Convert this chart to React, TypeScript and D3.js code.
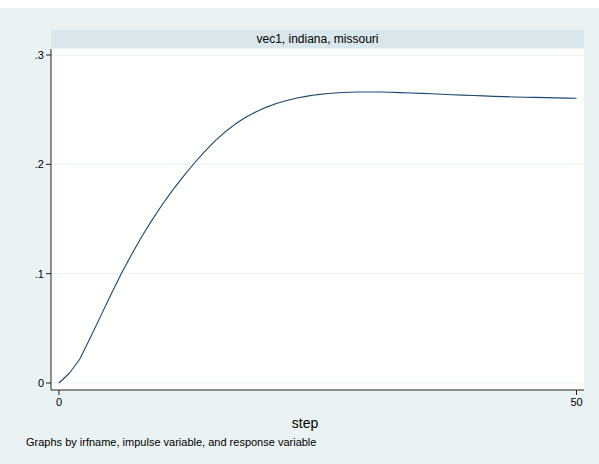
import React from "react";
import * as d3 from "d3";

const steps: number[] = Array.from({ length: 51 }, (_, i) => i);
const irf: number[] = [
  0, 0.0089, 0.0217, 0.041, 0.0607, 0.0805, 0.0997, 0.1172, 0.134, 0.1492,
  0.1635, 0.1766, 0.1888, 0.2003, 0.211, 0.2207, 0.2293, 0.2366, 0.2428, 0.2479,
  0.2521, 0.2556, 0.2584, 0.2606, 0.2624, 0.2638, 0.2648, 0.2655, 0.2659, 0.2661,
  0.2662, 0.2661, 0.2659, 0.2656, 0.2653, 0.2649, 0.2645, 0.2641, 0.2637, 0.2633,
  0.2629, 0.2626, 0.2622, 0.2619, 0.2616, 0.2614, 0.2612, 0.261, 0.2608, 0.2606,
  0.2605,
];
const yTicks: number[] = [0, 0.1, 0.2, 0.3];
const yTickLabels: string[] = ["0", ".1", ".2", ".3"];
const xTicks: number[] = [0, 50];
const panelTitle = "vec1, indiana, missouri";
const xTitle = "step";
const note = "Graphs by irfname, impulse variable, and response variable";

export default function App() {
  const W = 599, H = 464;
  const plotL = 51, plotR = 584, plotT = 49, plotB = 390;
  const x = d3.scaleLinear().domain([0, 50]).range([59, 576.5]);
  const y = d3.scaleLinear().domain([0, 0.3]).range([383, 55]);
  const line = d3
    .line<number>()
    .x((_, i) => x(steps[i]))
    .y((d) => y(d));
  const font = "'Liberation Sans', Arial, Helvetica, sans-serif";
  return (
    <svg
      width={W}
      height={H}
      style={{ position: "absolute", left: 0, top: 0, display: "block" }}
      fontFamily={font}
    >
      <rect x={0} y={0} width={W} height={H} fill="#ffffff" />
      <rect x={0} y={8} width={W} height={H - 8} fill="#eaf2f3" />
      <rect x={plotL} y={30} width={plotR - plotL} height={18} fill="#d9e6eb" />
      <text x={(plotL + plotR) / 2} y={43} textAnchor="middle" fontSize={12} fill="#000">
        {panelTitle}
      </text>
      <rect x={plotL} y={plotT} width={plotR - plotL} height={plotB - plotT} fill="#ffffff" />
      {yTicks.map((t) => (
        <line key={"g" + t} x1={plotL} x2={plotR} y1={y(t)} y2={y(t)} stroke="#eaf2f3" strokeWidth={1} />
      ))}
      <path d={line(irf) || ""} fill="none" stroke="#1a476f" strokeWidth={1.1} strokeLinejoin="round" />
      <line x1={plotL} x2={plotL} y1={plotT} y2={plotB} stroke="#222" strokeWidth={1} />
      <line x1={plotL} x2={plotR} y1={plotB} y2={plotB} stroke="#222" strokeWidth={1} />
      {yTicks.map((t, i) => (
        <g key={"y" + t}>
          <line x1={plotL - 5} x2={plotL} y1={y(t)} y2={y(t)} stroke="#222" />
          <text x={plotL - 7} y={y(t) + 4} textAnchor="end" fontSize={11} fill="#000">
            {yTickLabels[i]}
          </text>
        </g>
      ))}
      {xTicks.map((t) => (
        <g key={"x" + t}>
          <line x1={x(t)} x2={x(t)} y1={plotB} y2={plotB + 5} stroke="#222" />
          <text x={x(t)} y={406} textAnchor="middle" fontSize={11} fill="#000">
            {t}
          </text>
        </g>
      ))}
      <text x={305} y={428} textAnchor="middle" fontSize={14} fill="#000">
        {xTitle}
      </text>
      <text x={26} y={446} fontSize={11} fill="#000">
        {note}
      </text>
    </svg>
  );
}
